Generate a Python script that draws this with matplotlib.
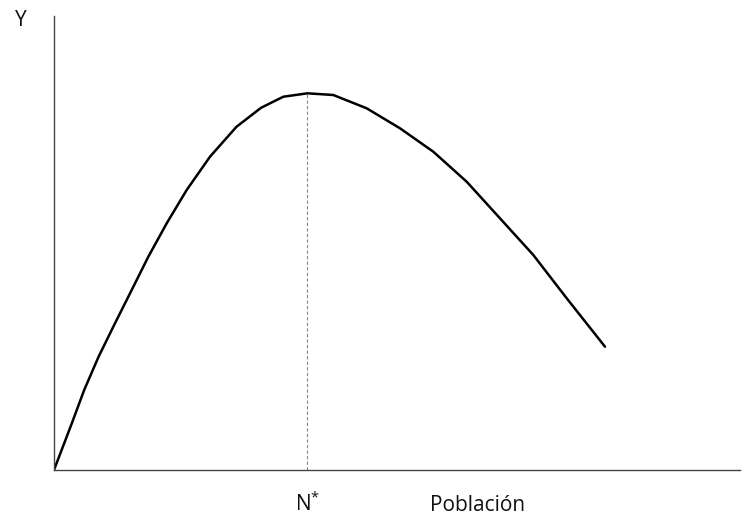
import matplotlib.pyplot as plt
import matplotlib.transforms as mtransforms

plt.rcParams['font.family'] = ['Open Sans', 'DejaVu Sans']
plt.rcParams['mathtext.fontset'] = 'custom'
plt.rcParams['mathtext.rm'] = 'Open Sans'

# curve (population vs. yield, arbitrary units 0-100)
poblacion = [0.0, 2.6, 4.4, 6.5, 8.89, 11.33, 13.75, 16.43, 19.34,
             22.74, 26.6, 30.2, 33.43, 36.95, 40.71, 45.58, 50.44,
             55.29, 60.16, 65.01, 69.87, 74.74, 80.32]
rendimiento = [0.0, 10.29, 17.62, 24.96, 32.31, 39.65, 46.98, 54.34, 61.67,
               69.01, 75.6, 79.8, 82.22, 82.97, 82.60, 79.67, 75.26,
               70.11, 63.50, 55.44, 47.36, 37.82, 27.16]
n_star = 36.95
y_max = 82.97

fig = plt.figure(figsize=(7.44, 5.16), dpi=100)
ax = fig.add_axes([54 / 744, 46 / 516, 686 / 744, 454 / 516])

ax.plot(poblacion, rendimiento, color='black', lw=1.8,
        solid_capstyle='round', solid_joinstyle='round')
ax.plot([n_star, n_star], [0, y_max], color='#888888', lw=0.8,
        ls=(0, (3, 2)))

ax.set_xlim(0, 100)
ax.set_ylim(0, 100)
for side in ['top', 'right']:
    ax.spines[side].set_visible(False)
for side in ['left', 'bottom']:
    ax.spines[side].set_color('#444444')
    ax.spines[side].set_linewidth(1.0)
ax.set_xticks([])
ax.set_yticks([])

trans = mtransforms.blended_transform_factory(ax.transData, ax.transAxes)
ax.text(n_star, -0.090, r'N$^{*}$', transform=trans, ha='center',
        va='baseline', fontsize=15, color='#111111')
ax.text(0.548, -0.090, 'Población', transform=ax.transAxes, ha='left',
        va='baseline', fontsize=15, color='#111111')
ax.text(-0.048, 0.99, 'Y', transform=ax.transAxes, ha='center',
        va='center', fontsize=15, color='#111111')

fig.savefig('out.png', dpi=100)
